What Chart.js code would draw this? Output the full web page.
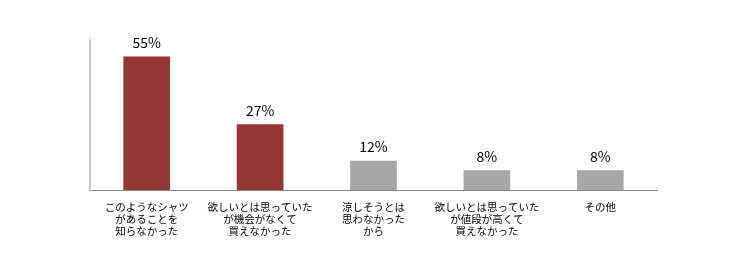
<!DOCTYPE html>
<html>
<head>
<meta charset="utf-8">
<script src="https://cdn.jsdelivr.net/npm/chart.js@4"></script>
<style>
  html, body { margin: 0; padding: 0; background: #fff; }
  #wrap { width: 735px; height: 264px; }
</style>
</head>
<body>
<div id="wrap"><canvas id="barChart"></canvas></div>
<script>
const labels = [
  ['このようなシャツ', 'があることを', '知らなかった'],
  ['欲しいとは思っていた', 'が機会がなくて', '買えなかった'],
  ['涼しそうとは', '思わなかった', 'から'],
  ['欲しいとは思っていた', 'が値段が高くて', '買えなかった'],
  ['その他']
];
const values = [55, 27, 12, 8, 8];
const barColors = ['#943634', '#943634', '#a6a6a6', '#a6a6a6', '#a6a6a6'];

const jpFont = '"Noto Sans CJK JP", "Noto Sans", sans-serif';

// percent text above each bar
const valueLabels = {
  id: 'valueLabels',
  afterDatasetsDraw(chart) {
    const ctx = chart.ctx;
    const meta = chart.getDatasetMeta(0);
    ctx.save();
    ctx.fillStyle = '#000';
    ctx.font = '14px ' + jpFont;
    ctx.textAlign = 'center';
    ctx.textBaseline = 'alphabetic';
    meta.data.forEach((bar, i) => {
      ctx.fillText(values[i] + '%', bar.x, bar.y - 9);
    });
    ctx.restore();
  }
};

const data = {
  labels: labels,
  datasets: [{
    data: values,
    backgroundColor: barColors,
    borderWidth: 0,
    barThickness: 46
  }]
};

const config = {
  type: 'bar',
  data,
  options: {
    responsive: true,
    maintainAspectRatio: false,
    animation: false,
    layout: { padding: { top: 40, right: 78, left: 0, bottom: 0 } },
    plugins: {
      legend: { display: false },
      tooltip: { enabled: false }
    },
    scales: {
      x: {
        grid: { display: false, drawTicks: false },
        border: { color: '#888888', width: 1 },
        ticks: {
          color: '#000',
          padding: 11,
          maxRotation: 0,
          autoSkip: false,
          font: { family: jpFont, size: 10.5, lineHeight: 1.15 }
        },
        afterFit(scale) { scale.height = 74; }
      },
      y: {
        min: 0,
        max: 62,
        grid: { display: false, drawTicks: false },
        border: { color: '#c8c8c8', width: 2 },
        ticks: { display: false },
        afterFit(scale) { scale.width = 90; }
      }
    }
  },
  plugins: [valueLabels]
};

new Chart(document.getElementById('barChart').getContext('2d'), config);
</script>
</body>
</html>
